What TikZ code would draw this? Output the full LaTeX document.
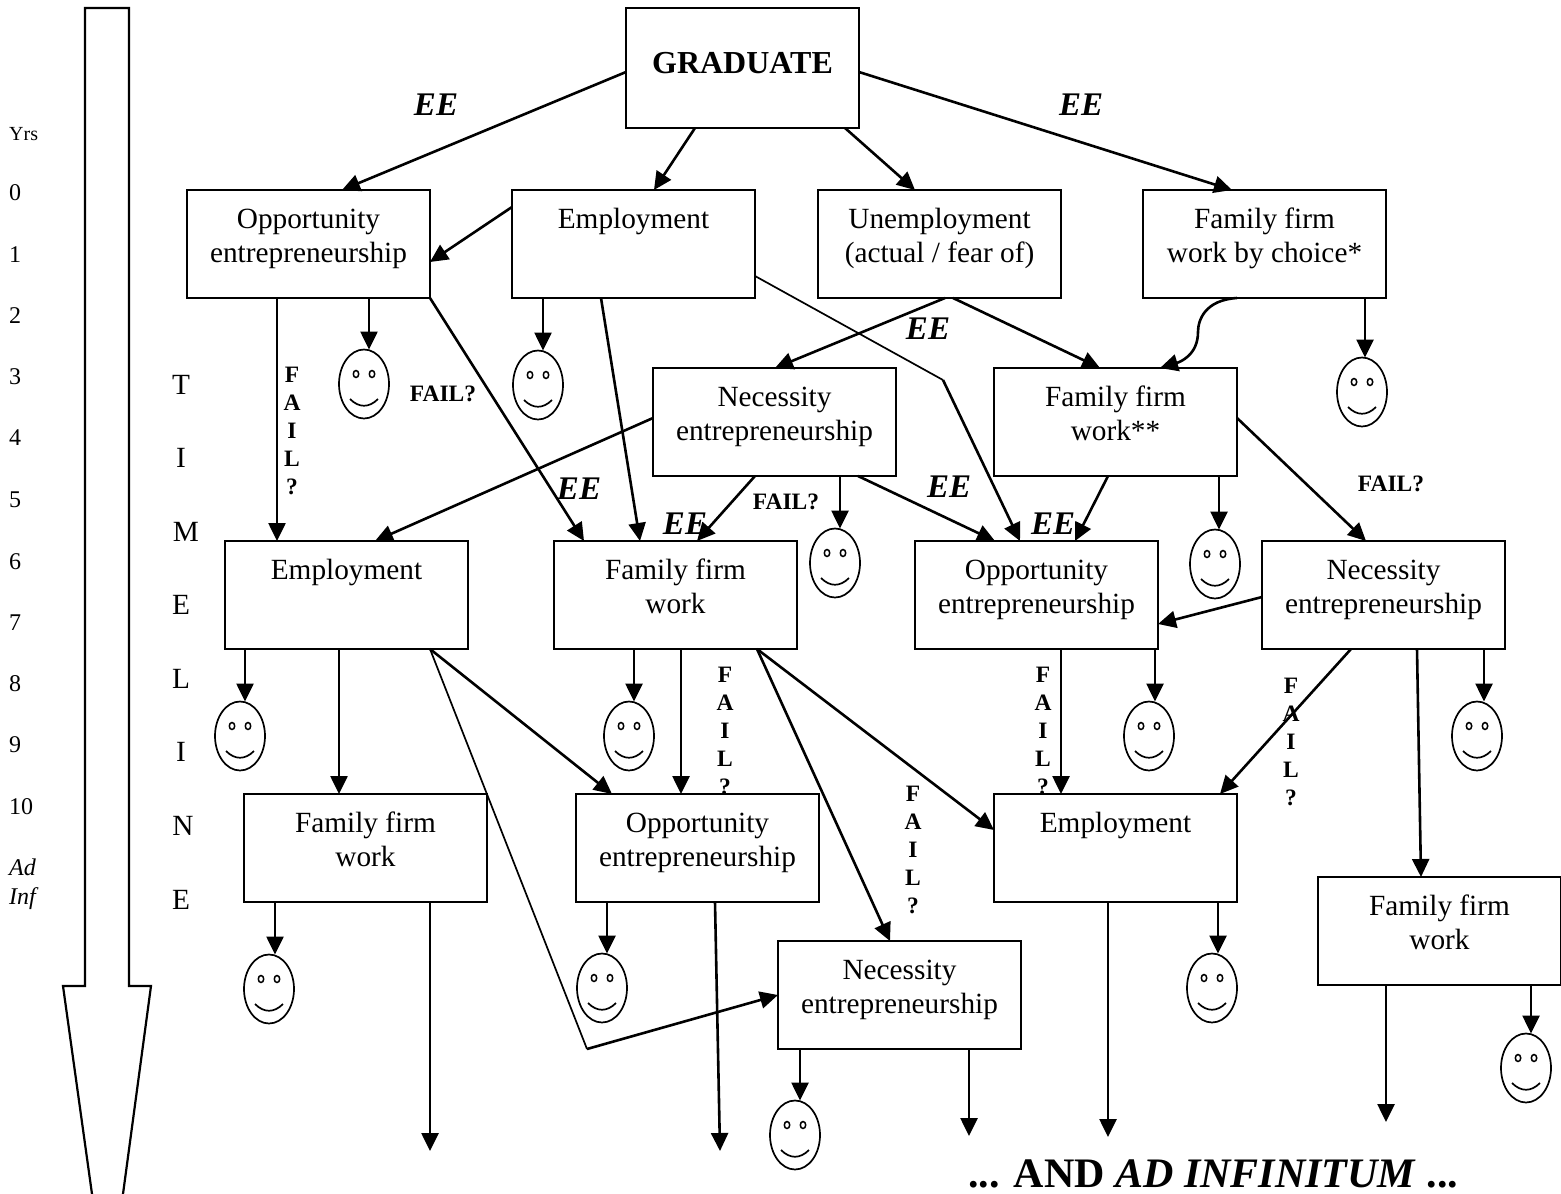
\documentclass[tikz,border=0pt]{standalone}
\usepackage{fontspec}
\setmainfont{Liberation Serif}
\usetikzlibrary{arrows.meta,shapes.geometric}
\tikzset{
  box/.style={draw,line width=2.2pt,fill=white,inner sep=0pt,outer sep=0pt,anchor=north west,font=\fontsize{29.3}{34}\selectfont},
  facebox/.style={draw,line width=1.7pt,ellipse,minimum width=50pt,minimum height=69pt,inner sep=0pt,outer sep=0pt},
  arr/.style={line width=2.6pt,-{Triangle[length=18pt,width=17pt]}},
  thinline/.style={line width=1.7pt},
  ee/.style={font=\fontsize{33}{36}\bfseries\itshape\selectfont,inner sep=0pt},
  fail/.style={font=\fontsize{23.5}{28}\bfseries\selectfont,inner sep=0pt,align=center},
  yearlab/.style={font=\fontsize{24}{28}\selectfont,inner sep=0pt,anchor=west},
  timelab/.style={font=\fontsize{29.3}{34}\selectfont,inner sep=0pt}
}
\newcommand\bx[4]{\node[box] (#1) at (#2,#3) {\parbox[c][108pt][t]{243pt}{\centering\rule{0pt}{38pt}#4}};}
\newcommand\smiley[3]{%
  \node[facebox] (#1) at (#2,#3) {};
  \draw[line width=1.5pt] (#2-8,#3-10) ellipse (2.7pt and 3.5pt);
  \draw[line width=1.5pt] (#2+8,#3-10) ellipse (2.7pt and 3.5pt);
  \draw[line width=1.7pt] (#2-14,#3+15) .. controls (#2-5,#3+24) and (#2+5,#3+24) .. (#2+14,#3+15);
}
\begin{document}
\begin{tikzpicture}[x=1pt,y=-1pt]
\useasboundingbox (0,0) rectangle (1561,1194);
% timeline arrow
\draw[line width=2.2pt,line join=miter] (92,1194) -- (63,986) -- (85,986) -- (85,8) -- (129,8) -- (129,986) -- (151,986) -- (123,1194);
% year scale
\node[font=\fontsize{20}{22}\selectfont,inner sep=0pt,anchor=west] (yrs) at (9,134) {Yrs};
\node[yearlab] (y0) at (9,193) {0};
\node[yearlab] (y1) at (9,255) {1};
\node[yearlab] (y2) at (9,316) {2};
\node[yearlab] (y3) at (9,377) {3};
\node[yearlab] (y4) at (9,438) {4};
\node[yearlab] (y5) at (9,500) {5};
\node[yearlab] (y6) at (9,562) {6};
\node[yearlab] (y7) at (9,623) {7};
\node[yearlab] (y8) at (9,684) {8};
\node[yearlab] (y9) at (9,745) {9};
\node[yearlab] (y10) at (9,807) {10};
\node[yearlab,font=\fontsize{24}{28}\itshape\selectfont] (yad) at (9,867) {Ad};
\node[yearlab,font=\fontsize{24}{28}\itshape\selectfont] (yinf) at (9,899) {Inf};
% TIMELINE
\node[timelab] (t1) at (181,385) {T};
\node[timelab] (t2) at (181,458) {I};
\node[timelab] (t3) at (186,532) {M};
\node[timelab] (t4) at (181,605) {E};
\node[timelab] (t5) at (181,679) {L};
\node[timelab] (t6) at (181,752) {I};
\node[timelab] (t7) at (183,826) {N};
\node[timelab] (t8) at (181,900) {E};
% labels under the boxes
\begin{scope}
\clip (650,500) rectangle (730,533);
\node[ee] (ee6) at (685,524) {EE};
\end{scope}
\begin{scope}
\clip (1020,500) rectangle (1090,533);
\node[ee] (ee7) at (1053,524) {EE};
\end{scope}
\node[ee] (ee1) at (436,105) {EE};
\node[ee] (ee2) at (1081,105) {EE};
\node[ee] (ee3) at (928,329) {EE};
\node[ee] (ee4) at (579,489) {EE};
\node[ee] (ee5) at (949,487) {EE};
\node[fail] (fq1) at (443,394) {FAIL?};
\node[fail] (fq2) at (786,502) {FAIL?};
\node[fail] (fq3) at (1391,484) {FAIL?};
\node[fail] (fv1) at (292,431) {F\\A\\I\\L\\?};
\node[fail] (fv2) at (725,731) {F\\A\\I\\L\\?};
\node[fail] (fv3) at (1043,731) {F\\A\\I\\L\\?};
\node[fail] (fv4) at (1291,742) {F\\A\\I\\L\\?};
\node[fail] (fv5) at (913,850) {F\\A\\I\\L\\?};
\node[font=\fontsize{42}{46}\bfseries\selectfont,inner sep=0pt,anchor=base west] (adinf) at (968,1187) {... AND \textit{AD INFINITUM} ...};
% boxes
\node[box] (grad) at (626,8) {\parbox[c][120pt][c]{233pt}{\centering\fontsize{32}{36}\bfseries\selectfont GRADUATE\par\vspace{10pt}}};
\bx{opp1}{187}{190}{Opportunity\\entrepreneurship}
\bx{emp1}{512}{190}{Employment}
\bx{une}{818}{190}{Unemployment\\(actual / fear of)}
\bx{ffc}{1143}{190}{Family firm\\work by choice*}
\bx{nec1}{653}{368}{Necessity\\entrepreneurship}
\bx{ffs}{994}{368}{Family firm\\work**}
\bx{emp2}{225}{541}{Employment}
\bx{ff2}{554}{541}{Family firm\\work}
\bx{opp2}{915}{541}{Opportunity\\entrepreneurship}
\bx{nec2}{1262}{541}{Necessity\\entrepreneurship}
\bx{ff3}{244}{794}{Family firm\\work}
\bx{opp3}{576}{794}{Opportunity\\entrepreneurship}
\bx{emp3}{994}{794}{Employment}
\bx{ff4}{1318}{877}{Family firm\\work}
\bx{nec3}{778}{941}{Necessity\\entrepreneurship}
% faces
\smiley{f1}{364}{384}
\smiley{f2}{538}{385}
\smiley{f3}{1362}{392}
\smiley{f4}{835}{563}
\smiley{f5}{1215}{564}
\smiley{f6}{240}{736}
\smiley{f7}{629}{736}
\smiley{f8}{1149}{736}
\smiley{f9}{1477}{736}
\smiley{f10}{269}{989}
\smiley{f11}{602}{988}
\smiley{f12}{1212}{988}
\smiley{f13}{1526}{1068}
\smiley{f14}{795}{1135}
% free ends and bends
\coordinate (bend1) at (943,380);
\coordinate (bend2) at (587,1049);
\coordinate (end1) at (430,1151);
\coordinate (end2) at (720,1151);
\coordinate (end3) at (1108,1137);
\coordinate (end4) at (969,1136);
\coordinate (end5) at (1386,1122);
% connectors
\draw[arr] ([yshift=-64pt]grad.north west) -- ([xshift=155pt]opp1.north west);
\draw[arr] ([xshift=69pt]grad.south west) -- ([xshift=142pt]emp1.north west);
\draw[arr] ([xshift=219pt]grad.south west) -- ([xshift=97pt]une.north west);
\draw[arr] ([yshift=-64pt]grad.north east) -- ([xshift=89pt]ffc.north west);
\draw[arr] ([yshift=-17pt]emp1.north west) -- ([yshift=-72pt]opp1.north east);
\draw[arr] ([xshift=90pt]opp1.south west) -- ([xshift=52pt]emp2.north west);
\draw[arr] ([xshift=182pt]opp1.south west) -- ([xshift=5pt]f1.north);
\draw[arr] (opp1.south east) -- ([xshift=30pt]ff2.north west);
\draw[arr] ([xshift=31pt]emp1.south west) -- ([xshift=5pt]f2.north);
\draw[arr] ([xshift=89pt]emp1.south west) -- ([xshift=86pt]ff2.north west);
\draw[thinline] ([yshift=-86pt]emp1.north east) -- (bend1);
\draw[arr] (bend1) -- ([xshift=105pt]opp2.north west);
\draw[arr] ([xshift=127pt]une.south west) -- ([xshift=122pt]nec1.north west);
\draw[arr] ([xshift=135pt]une.south west) -- ([xshift=106pt]ffs.north west);
\draw[arr] ([xshift=94pt]ffc.south west) .. controls (1205,300) and (1198,320) .. (1198,332) .. controls (1198,355) and (1180,362) .. ([xshift=166pt]ffs.north west);
\draw[arr] ([xshift=222pt]ffc.south west) -- ([xshift=3pt]f3.north);
\draw[arr] ([yshift=-50pt]nec1.north west) -- ([xshift=150pt]emp2.north west);
\draw[arr] ([xshift=102pt]nec1.south west) -- ([xshift=143pt]ff2.north west);
\draw[arr] ([xshift=187pt]nec1.south west) -- ([xshift=5pt]f4.north);
\draw[arr] ([xshift=205pt]nec1.south west) -- ([xshift=80pt]opp2.north west);
\draw[arr] ([xshift=114pt]ffs.south west) -- ([xshift=160pt]opp2.north west);
\draw[arr] ([xshift=225pt]ffs.south west) -- ([xshift=4pt]f5.north);
\draw[arr] ([yshift=-50pt]ffs.north east) -- ([xshift=104pt]nec2.north west);
\draw[arr] ([xshift=20pt]emp2.south west) -- ([xshift=5pt]f6.north);
\draw[arr] ([xshift=114pt]emp2.south west) -- ([xshift=95pt]ff3.north west);
\draw[arr] ([xshift=205pt]emp2.south west) -- ([xshift=36pt]opp3.north west);
\draw[thinline] ([xshift=205pt]emp2.south west) -- (bend2);
\draw[arr] (bend2) -- ([yshift=-54pt]nec3.north west);
\draw[arr] ([xshift=80pt]ff2.south west) -- ([xshift=5pt]f7.north);
\draw[arr] ([xshift=127pt]ff2.south west) -- ([xshift=105pt]opp3.north west);
\draw[arr] ([xshift=203pt]ff2.south west) -- ([xshift=112pt]nec3.north west);
\draw[arr] ([xshift=203pt]ff2.south west) -- ([yshift=-36pt]emp3.north west);
\draw[arr] ([xshift=240pt]opp2.south west) -- ([xshift=6pt]f8.north);
\draw[arr] ([xshift=146pt]opp2.south west) -- ([xshift=67pt]emp3.north west);
\draw[arr] ([yshift=-56pt]nec2.north west) -- ([yshift=-83pt]opp2.north east);
\draw[arr] ([xshift=89pt]nec2.south west) -- ([xshift=226pt]emp3.north west);
\draw[arr] ([xshift=155pt]nec2.south west) -- ([xshift=103pt]ff4.north west);
\draw[arr] ([xshift=222pt]nec2.south west) -- ([xshift=7pt]f9.north);
\draw[arr] ([xshift=31pt]ff3.south west) -- ([xshift=6pt]f10.north);
\draw[arr] ([xshift=186pt]ff3.south west) -- (end1);
\draw[arr] ([xshift=31pt]opp3.south west) -- ([xshift=5pt]f11.north);
\draw[arr] ([xshift=139pt]opp3.south west) -- (end2);
\draw[arr] ([xshift=114pt]emp3.south west) -- (end3);
\draw[arr] ([xshift=224pt]emp3.south west) -- ([xshift=6pt]f12.north);
\draw[arr] ([xshift=22pt]nec3.south west) -- ([xshift=5pt]f14.north);
\draw[arr] ([xshift=191pt]nec3.south west) -- (end4);
\draw[arr] ([xshift=68pt]ff4.south west) -- (end5);
\draw[arr] ([xshift=213pt]ff4.south west) -- ([xshift=5pt]f13.north);
\end{tikzpicture}
\end{document}
